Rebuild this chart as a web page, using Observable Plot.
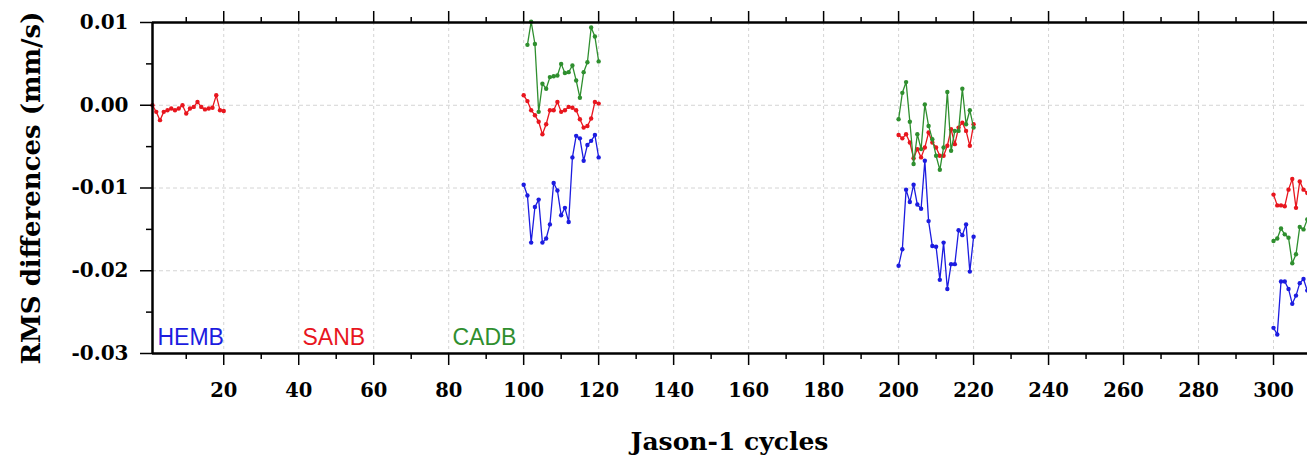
<!DOCTYPE html>
<html><head><meta charset="utf-8">
<style>
html,body{margin:0;padding:0;background:#fff;overflow:hidden;}
#chart svg{max-width:none !important;display:block;}
</style>
<script src="https://cdn.jsdelivr.net/npm/d3@7"></script>
<script src="https://cdn.jsdelivr.net/npm/@observablehq/plot@0.6"></script>
</head><body><div id="chart"></div>
<script>
// Series names and colours
const seriesNames = ["HEMB", "SANB", "CADB"];
const seriesColors = ["#1c1ce0", "#e8161e", "#2f8f2f"];

// Segment start cycles
const hembStarts = [100, 200, 300];
const sanbStarts = [1, 100, 200, 300];
const cadbStarts = [101, 200, 300];

// RMS differences (mm/s)
const hembSeg2 = [-0.0096,-0.0109,-0.0166,-0.0123,-0.0114,-0.0166,-0.0161,-0.0144,-0.0094,-0.0103,-0.0133,-0.0124,-0.0141,-0.0063,-0.0037,-0.0040,-0.0067,-0.0048,-0.0043,-0.0036,-0.0063];
const hembSeg3 = [-0.0194,-0.0174,-0.0102,-0.0117,-0.0096,-0.0120,-0.0125,-0.0067,-0.0140,-0.0170,-0.0171,-0.0211,-0.0166,-0.0222,-0.0192,-0.0192,-0.0151,-0.0157,-0.0144,-0.0201,-0.0159];
const hembSeg4 = [-0.0269,-0.0277,-0.0213,-0.0213,-0.0222,-0.0240,-0.0230,-0.0215,-0.0210,-0.0224];

const sanbSeg1 = [0.0000,-0.0008,-0.0018,-0.0008,-0.0006,-0.0004,-0.0006,-0.0004,0.0000,-0.0010,-0.0004,-0.0002,0.0004,-0.0002,-0.0005,-0.0004,-0.0003,0.0012,-0.0006,-0.0007];
const sanbSeg2 = [0.0012,0.0005,-0.0006,-0.0012,-0.0020,-0.0035,-0.0023,-0.0006,-0.0006,0.0004,-0.0008,-0.0006,-0.0002,-0.0003,-0.0006,-0.0017,-0.0027,-0.0025,-0.0016,0.0004,0.0002];
const sanbSeg3 = [-0.0036,-0.0040,-0.0035,-0.0045,-0.0064,-0.0053,-0.0063,-0.0051,-0.0033,-0.0045,-0.0051,-0.0061,-0.0061,-0.0049,-0.0029,-0.0047,-0.0027,-0.0021,-0.0031,-0.0049,-0.0023];
const sanbSeg4 = [-0.0108,-0.0121,-0.0121,-0.0122,-0.0102,-0.0089,-0.0124,-0.0092,-0.0102,-0.0106];

const cadbSeg2 = [0.0073,0.0101,0.0074,-0.0008,0.0026,0.0020,0.0034,0.0035,0.0036,0.0050,0.0039,0.0040,0.0048,0.0030,0.0009,0.0040,0.0052,0.0094,0.0083,0.0053];
const cadbSeg3 = [-0.0017,0.0015,0.0028,-0.0020,-0.0071,-0.0035,-0.0053,0.0001,-0.0025,-0.0041,-0.0061,-0.0078,-0.0051,0.0016,-0.0055,-0.0031,-0.0031,0.0020,-0.0023,-0.0006,-0.0027];
const cadbSeg4 = [-0.0164,-0.0161,-0.0149,-0.0156,-0.0160,-0.0191,-0.0180,-0.0147,-0.0150,-0.0138];

// Ticks
const xTicks = [20,40,60,80,100,120,140,160,180,200,220,240,260,280,300];
const xMinorTicks = [10,30,50,70,90,110,130,150,170,190,210,230,250,270,290,310];
const yTicks = [0.01, 0.00, -0.01, -0.02, -0.03];
const yMinorTicks = [0.005, -0.005, -0.015, -0.025];
const yGrid = [0.00, -0.01, -0.02];
const xLabel = "Jason-1 cycles";
const yLabel = "RMS differences (mm/s)";

const rows = [];
function add(series, starts, segs) {
  segs.forEach((vals, k) => vals.forEach((v, i) =>
    rows.push({series, seg: series + k, cycle: starts[k] + i, value: v})));
}
add("HEMB", hembStarts, [hembSeg2, hembSeg3, hembSeg4]);
add("SANB", sanbStarts, [sanbSeg1, sanbSeg2, sanbSeg3, sanbSeg4]);
add("CADB", cadbStarts, [cadbSeg2, cadbSeg3, cadbSeg4]);

const legendDx = [5, 150, 300];
const serif = "DejaVu Serif";

const seriesMarks = seriesNames.flatMap(name => {
  const d = rows.filter(r => r.series === name);
  return [
    Plot.line(d, {x: "cycle", y: "value", z: "seg", stroke: "series", strokeWidth: 1.3}),
    Plot.dot(d, {x: "cycle", y: "value", fill: "series", r: 2.2, stroke: "none"})
  ];
});

const plot = Plot.plot({
  width: 1400, height: 456,
  marginLeft: 152, marginRight: 52, marginTop: 22, marginBottom: 103,
  x: {domain: [1, 320]},
  y: {domain: [-0.03, 0.01]},
  color: {domain: seriesNames, range: seriesColors},
  style: {fontFamily: serif, fontWeight: "bold", background: "#fff", color: "#000"},
  marks: [
    Plot.gridX(xTicks, {stroke: "#d4d4d4", strokeOpacity: 1, strokeDasharray: "3,3", strokeWidth: 1}),
    Plot.gridY(yGrid, {stroke: "#d4d4d4", strokeOpacity: 1, strokeDasharray: "4,3", strokeWidth: 1}),
    ...seriesMarks,
    Plot.axisX(xTicks, {anchor: "bottom", tickSize: 12, tickPadding: 18, fontSize: 19.5, fontWeight: "bold", strokeWidth: 1.5, label: null}),
    Plot.axisX(xMinorTicks, {anchor: "bottom", tickSize: 6, tickFormat: () => "", strokeWidth: 1.5, label: null}),
    Plot.axisX(xTicks, {anchor: "top", tickSize: 12, tickFormat: () => "", strokeWidth: 1.5, label: null}),
    Plot.axisX(xMinorTicks, {anchor: "top", tickSize: 6, tickFormat: () => "", strokeWidth: 1.5, label: null}),
    Plot.axisY(yTicks, {anchor: "left", tickSize: 12, tickPadding: 12, fontSize: 20, fontWeight: "bold", strokeWidth: 1.5, tickFormat: d => d.toFixed(2), label: null}),
    Plot.axisY(yMinorTicks, {anchor: "left", tickSize: 6, tickFormat: () => "", strokeWidth: 1.5, label: null}),
    Plot.ruleY([-0.03, 0.01], {strokeWidth: 2.5, stroke: "#000"}),
    Plot.ruleX([1], {strokeWidth: 2.5, stroke: "#000"}),
    ...seriesNames.map((name, i) => Plot.text([name], {
      frameAnchor: "bottom-left", dx: legendDx[i], dy: -15.4, text: d => d,
      fill: seriesColors[i], fontFamily: "Liberation Sans", fontWeight: "normal", fontSize: 23,
      textAnchor: "start", lineAnchor: "middle"
    })),
    Plot.text([xLabel], {frameAnchor: "bottom-left", dx: 577, dy: 88, text: d => d,
      fontSize: 25, fontWeight: "bold", fontFamily: serif, textAnchor: "middle", lineAnchor: "middle"}),
    Plot.text([yLabel], {frameAnchor: "left", dx: -121, rotate: -90, text: d => d,
      fontSize: 26, fontWeight: "bold", fontFamily: serif, textAnchor: "middle", lineAnchor: "middle"})
  ]
});
plot.style.maxWidth = "none";
document.getElementById("chart").appendChild(plot);
</script>
</body></html>
